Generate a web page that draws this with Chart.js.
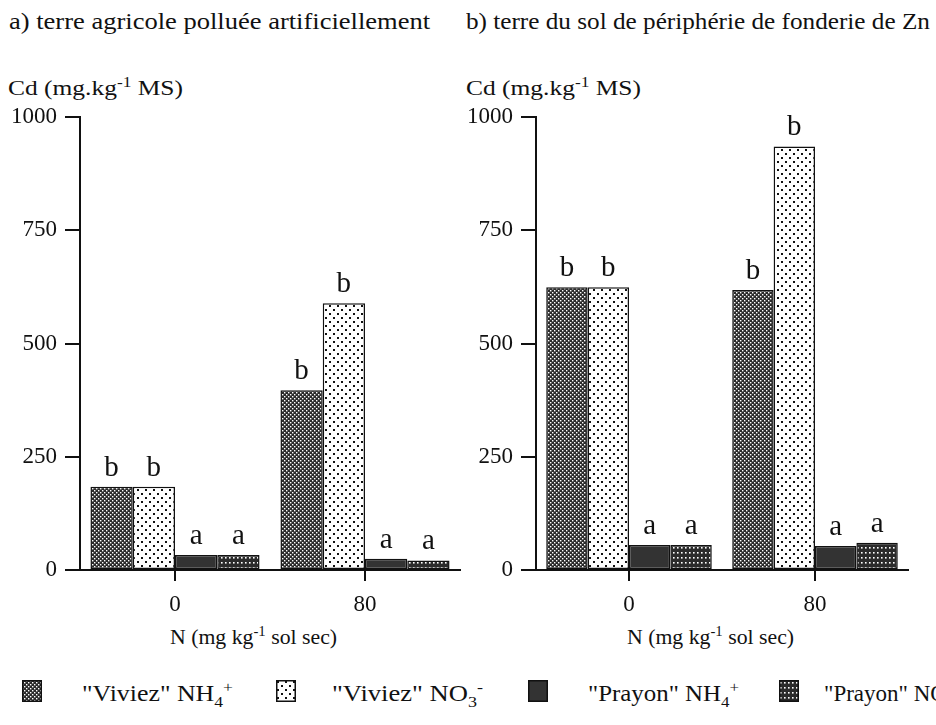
<!DOCTYPE html>
<html>
<head>
<meta charset="utf-8">
<script src="https://cdn.jsdelivr.net/npm/chart.js@4"></script>
<style>
  body { margin: 0; background: #fff; width: 936px; height: 725px; overflow: hidden; position: relative;
         font-family: 'Liberation Serif', 'Times New Roman', Times, serif; color: #111; }
  canvas { position: absolute; top: 0; }
  .txt { position: absolute; white-space: nowrap; line-height: 1; transform-origin: left top; }
  .title { font-size: 24px; }
  .ax { font-size: 22px; }
  sup, sub { font-size: 68%; line-height: 0; }
  .leg { position: absolute; top: 682px; font-size: 23px; white-space: nowrap; line-height: 1; transform-origin: left top; }
  .sw { position: absolute; top: 680px; width: 20px; height: 22px; }
</style>
</head>
<body>
<div class="txt title" data-w="421" style="left:9px; top:9px;">a) terre agricole polluée artificiellement</div>
<div class="txt title" data-w="464" style="left:466px; top:9px;">b) terre du sol de périphérie de fonderie de Zn</div>
<div class="txt ax" data-w="175" style="left:8px; top:77px;">Cd (mg.kg<sup>-1</sup> MS)</div>
<div class="txt ax" data-w="175" style="left:466px; top:77px;">Cd (mg.kg<sup>-1</sup> MS)</div>
<div class="txt ax" data-w="167" style="left:170px; top:626px;">N (mg kg<sup>-1</sup> sol sec)</div>
<div class="txt ax" data-w="167" style="left:627px; top:626px;">N (mg kg<sup>-1</sup> sol sec)</div>

<canvas id="chartA" style="left:0px;" width="468" height="625"></canvas>
<canvas id="chartB" style="left:456px;" width="460" height="625"></canvas>

<div id="legend"></div>

<script>
// doses d'azote (catégories)
const doses = ["0", "80"];
const seriesNames = ['"Viviez" NH4+', '"Viviez" NO3-', '"Prayon" NH4+', '"Prayon" NO3-'];
const yTicks = [0, 250, 500, 750, 1000];

// a) terre agricole polluée artificiellement
const viviezNH4_a = [184, 397];
const viviezNO3_a = [184, 589];
const prayonNH4_a = [33, 25];
const prayonNO3_a = [33, 21];

// b) terre du sol de périphérie de fonderie de Zn
const viviezNH4_b = [624, 618];
const viviezNO3_b = [624, 935];
const prayonNH4_b = [55, 53];
const prayonNO3_b = [55, 60];

// lettres de significativité
const letters_a = [["b", "b"], ["b", "b"], ["a", "a"], ["a", "a"]];
const letters_b = [["b", "b"], ["b", "b"], ["a", "a"], ["a", "a"]];

const SERIF = "'Liberation Serif', 'Times New Roman', serif";

function makePattern(kind) {
  const c = document.createElement("canvas");
  const x = c.getContext("2d");
  if (kind === "check") {
    c.width = 4; c.height = 4;
    x.fillStyle = "#2b2b2b"; x.fillRect(0, 0, 4, 4);
    x.fillStyle = "#fff";
    x.fillRect(0, 0, 1.4, 1.4); x.fillRect(2, 2, 1.4, 1.4);
  } else if (kind === "dots") {
    c.width = 8; c.height = 8;
    x.fillStyle = "#fff"; x.fillRect(0, 0, 8, 8);
    x.fillStyle = "#111";
    x.fillRect(1, 1, 2, 2); x.fillRect(5, 5, 2, 2);
  } else if (kind === "grid") {
    c.width = 4; c.height = 5;
    x.fillStyle = "#2b2b2b"; x.fillRect(0, 0, 4, 5);
    x.fillStyle = "#fff";
    x.fillRect(1, 2, 1.6, 1.6);
  } else {
    c.width = 2; c.height = 2;
    x.fillStyle = "#333"; x.fillRect(0, 0, 2, 2);
  }
  return c;
}
const kinds = ["check", "dots", "solid", "grid"];

const letterPlugin = {
  id: "letters",
  afterDatasetsDraw(chart, args, opts) {
    const ctx = chart.ctx;
    ctx.save();
    ctx.font = "29px " + SERIF;
    ctx.fillStyle = "#111";
    ctx.textAlign = "center";
    ctx.textBaseline = "alphabetic";
    chart.data.datasets.forEach((ds, i) => {
      chart.getDatasetMeta(i).data.forEach((bar, j) => {
        ctx.fillText(opts.labels[i][j], bar.x, bar.y - 11);
      });
    });
    ctx.restore();
  }
};

function makeChart(id, values, letters) {
  const ctx = document.getElementById(id).getContext("2d");
  const datasets = values.map((v, i) => ({
    label: seriesNames[i],
    data: v,
    backgroundColor: ctx.createPattern(makePattern(kinds[i]), "repeat"),
    borderColor: "#111",
    borderWidth: 1.5,
    borderSkipped: false,
    categoryPercentage: 0.89,
    barPercentage: 1.0,
  }));
  return new Chart(ctx, {
    type: "bar",
    data: { labels: doses, datasets: datasets },
    options: {
      responsive: false,
      animation: false,
      events: [],
      layout: { padding: { top: 117, right: 8, left: 0, bottom: 0 } },
      plugins: {
        legend: { display: false },
        tooltip: { enabled: false },
        letters: { labels: letters },
      },
      scales: {
        x: {
          offset: true,
          grid: { offset: false, drawOnChartArea: false, tickLength: 11, color: "#111", lineWidth: 2 },
          border: { color: "#111", width: 2 },
          ticks: { color: "#111", font: { family: SERIF, size: 23 }, padding: 10 },
          afterFit: (s) => { s.height = 55; },
        },
        y: {
          min: 0,
          max: 1000,
          afterBuildTicks: (s) => { s.ticks = yTicks.map((v) => ({ value: v })); },
          grid: { drawOnChartArea: false, tickLength: 15, color: "#111", lineWidth: 2 },
          border: { color: "#111", width: 2 },
          ticks: { color: "#111", font: { family: SERIF, size: 23 }, padding: 8,
                   callback: (v) => String(v) },
          afterFit: (s) => { s.width = 80; },
        },
      },
    },
    plugins: [letterPlugin],
  });
}

makeChart("chartA", [viviezNH4_a, viviezNO3_a, prayonNH4_a, prayonNO3_a], letters_a);
makeChart("chartB", [viviezNH4_b, viviezNO3_b, prayonNH4_b, prayonNO3_b], letters_b);

// légende commune
const legendHtml = [
  '"Viviez" NH<sub>4</sub><sup>+</sup>',
  '"Viviez" NO<sub>3</sub><sup>-</sup>',
  '"Prayon" NH<sub>4</sub><sup>+</sup>',
  '"Prayon" NO<sub>3</sub><sup>-</sup>',
];
const swX = [22, 276, 528, 779];
const txX = [82, 332, 588, 824];
const legend = document.getElementById("legend");
legendHtml.forEach((h, i) => {
  const sw = document.createElement("canvas");
  sw.className = "sw";
  sw.width = 20; sw.height = 22;
  sw.style.left = swX[i] + "px";
  const sctx = sw.getContext("2d");
  sctx.fillStyle = sctx.createPattern(makePattern(kinds[i]), "repeat");
  sctx.fillRect(0, 0, 20, 22);
  sctx.strokeStyle = "#111"; sctx.lineWidth = 1.5;
  sctx.strokeRect(0.75, 0.75, 18.5, 20.5);
  legend.appendChild(sw);
  const t = document.createElement("div");
  t.className = "leg";
  t.style.left = txX[i] + "px";
  t.innerHTML = h;
  if (i < 3) t.dataset.w = 151;
  legend.appendChild(t);
});

// ajuste la largeur des textes à celle de la figure d'origine
document.querySelectorAll("[data-w]").forEach((el) => {
  const w = el.getBoundingClientRect().width;
  el.style.transform = "scaleX(" + (Number(el.dataset.w) / w).toFixed(3) + ")";
});
</script>
</body>
</html>
